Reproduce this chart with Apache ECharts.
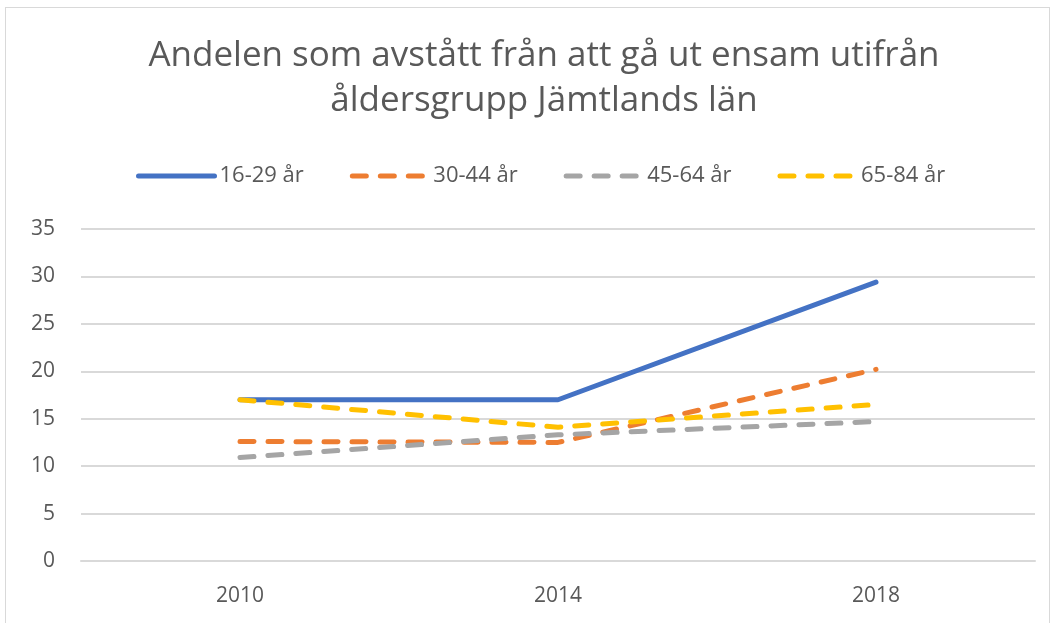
<!DOCTYPE html>
<html>
<head>
<meta charset="utf-8">
<script src="https://cdn.jsdelivr.net/npm/echarts@6/dist/echarts.min.js"></script>
<style>
  html, body { margin: 0; padding: 0; background: #fff; }
  #frame {
    position: absolute; left: 5px; top: 7px; width: 1045px; height: 630px;
    border: 1px solid #d9d9d9; box-sizing: border-box;
  }
  #chart { position: absolute; left: 0; top: 0; width: 1057px; height: 623px; }
</style>
</head>
<body>
<div id="frame"></div>
<div id="chart"></div>
<script>
// --- data ---
const years = ['2010', '2014', '2018']
const ages16to29 = [17.0, 17.0, 29.4]
const ages30to44 = [12.6, 12.5, 20.2]
const ages45to64 = [10.9, 13.3, 14.7]
const ages65to84 = [17.0, 14.1, 16.5]
const seriesNames = ['16-29 år', '30-44 år', '45-64 år', '65-84 år']

const font = "'Open Sans', sans-serif"
const textColor = '#595959'

const lineSeries = (name, data, color, dashed) => ({
  name,
  type: 'line',
  data,
  symbol: 'none',
  lineStyle: {
    color,
    width: 5,
    type: dashed ? [14, 14] : 'solid',
    cap: 'round',
    join: 'round',
  },
  itemStyle: { color },
})

const chart = echarts.init(document.getElementById('chart'))
chart.setOption({
  animation: false,
  title: {
    text: 'Andelen som avstått från att gå ut ensam utifrån\nåldersgrupp Jämtlands län',
    left: 539,
    top: 29,
    textAlign: 'center',
    textStyle: {
      fontFamily: font,
      fontSize: 35,
      fontWeight: 'normal',
      color: textColor,
      lineHeight: 45,
    },
  },
  legend: {
    top: 160,
    left: 131,
    itemWidth: 76,
    itemHeight: 6,
    itemGap: 46,
    itemStyle: { opacity: 0 },
    lineStyle: { width: 5, cap: 'round' },
    textStyle: { fontFamily: font, fontSize: 22, color: textColor },
    data: seriesNames,
  },
  grid: { left: 81, right: 22, top: 229, bottom: 62, containLabel: false },
  xAxis: {
    type: 'category',
    data: years,
    boundaryGap: true,
    axisLine: { lineStyle: { color: '#d9d9d9', width: 2 } },
    axisTick: { show: false },
    axisLabel: { fontFamily: font, fontSize: 21, color: textColor, margin: 25 },
  },
  yAxis: {
    type: 'value',
    min: 0,
    max: 35,
    interval: 5,
    axisLine: { show: false },
    axisTick: { show: false },
    axisLabel: { fontFamily: font, fontSize: 21, color: textColor, margin: 26 },
    splitLine: { lineStyle: { color: '#d9d9d9', width: 2 } },
  },
  series: [
    lineSeries(seriesNames[0], ages16to29, '#4472c4', false),
    lineSeries(seriesNames[1], ages30to44, '#ed7d31', true),
    lineSeries(seriesNames[2], ages45to64, '#a5a5a5', true),
    lineSeries(seriesNames[3], ages65to84, '#ffc000', true),
  ],
})
</script>
</body>
</html>
